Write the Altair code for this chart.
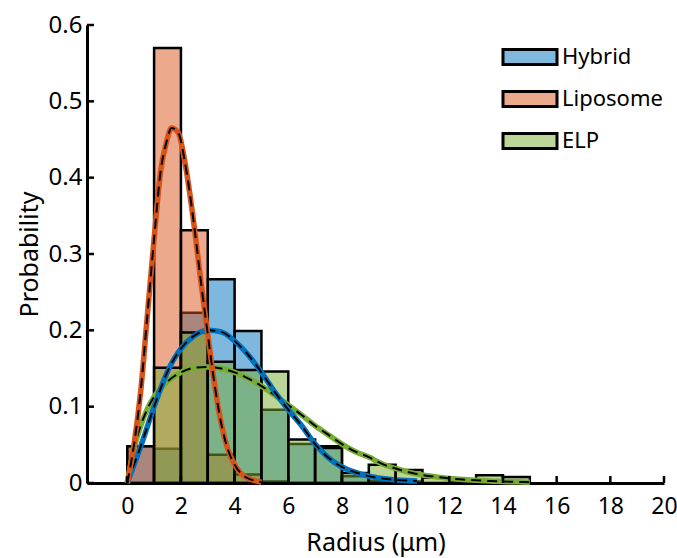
import altair as alt
import pandas as pd

# ---------------- data ----------------
series = ["Hybrid", "Liposome", "ELP"]
colors = ["#0072BD", "#D95319", "#77AC30"]
light_colors = ["#80B9DE", "#ECA98C", "#BBD698"]

bin_starts = list(range(0, 15))
hybrid_prob = [0.048, 0.045, 0.223, 0.267, 0.199, 0.096, 0.051, 0.048, 0.009, 0.003, 0.002, 0, 0, 0, 0]
liposome_prob = [0.048, 0.570, 0.331, 0.037, 0.011, 0.002, 0, 0, 0, 0, 0, 0, 0, 0, 0]
elp_prob = [0, 0.151, 0.197, 0.159, 0.148, 0.146, 0.057, 0.046, 0.013, 0.024, 0.017, 0.007, 0.003, 0.010, 0.008]

hybrid_fit_x = [0, 0.5, 1.0, 1.5, 2.0, 2.5, 3.0, 3.5, 4.0, 4.5, 5.0, 5.5, 6.0, 6.5, 7.0, 7.5,
                8.0, 8.5, 9.0, 9.5, 10.0, 10.5, 10.8]
hybrid_fit_y = [0, 0.048, 0.100, 0.146, 0.176, 0.193, 0.200, 0.198, 0.186, 0.168, 0.145, 0.119,
                0.096, 0.075, 0.051, 0.033, 0.021, 0.014, 0.009, 0.006, 0.004, 0.003, 0.0025]

liposome_fit_x = [0, 0.25, 0.5, 0.75, 1.0, 1.25, 1.45, 1.65, 1.9, 2.15, 2.5, 2.75, 3.0, 3.25,
                  3.5, 3.75, 4.0, 4.25, 4.5, 4.75, 5.0]
liposome_fit_y = [0, 0.05, 0.12, 0.22, 0.32, 0.41, 0.445, 0.465, 0.459, 0.42, 0.335, 0.262,
                  0.195, 0.13, 0.078, 0.044, 0.024, 0.012, 0.006, 0.003, 0.001]

elp_fit_x = [0, 0.25, 0.5, 0.75, 1.0, 1.5, 2.0, 2.5, 3.0, 3.5, 4.0, 4.5, 5.0, 5.5, 6.0, 6.5,
             7.0, 7.5, 8.0, 8.5, 9.0, 9.5, 10.0, 10.5, 11.0, 11.5, 12.0, 12.5, 13.0, 13.5,
             14.0, 14.5, 15.0]
elp_fit_y = [0, 0.045, 0.075, 0.097, 0.113, 0.133, 0.145, 0.151, 0.152, 0.150, 0.145, 0.137,
             0.127, 0.115, 0.102, 0.089, 0.075, 0.063, 0.051, 0.041, 0.034, 0.025, 0.019,
             0.014, 0.0105, 0.008, 0.006, 0.0045, 0.0035, 0.0025, 0.002, 0.0015, 0.001]

x_tick_values = [0, 2, 4, 6, 8, 10, 12, 14, 16, 18, 20]
y_tick_values = [0, 0.1, 0.2, 0.3, 0.4, 0.5, 0.6]

# ---------------- tables ----------------
probs = {"Hybrid": hybrid_prob, "Liposome": liposome_prob, "ELP": elp_prob}
rows = []
for s in series:
    for b, p in zip(bin_starts, probs[s]):
        if p > 0:
            rows.append({"series": s, "start": b, "end": b + 1, "prob": p})
bars_df = pd.DataFrame(rows)

fits = {
    "Hybrid": (hybrid_fit_x, hybrid_fit_y),
    "Liposome": (liposome_fit_x, liposome_fit_y),
    "ELP": (elp_fit_x, elp_fit_y),
}

FONT = "Noto Sans"
W, H = 577, 458

x_scale = alt.Scale(domain=[-1.5, 20], nice=False, zero=False)
y_scale = alt.Scale(domain=[0, 0.6], nice=False)
legend_scale = alt.Scale(domain=series, range=light_colors)

x_axis = alt.Axis(values=x_tick_values, title="Radius (μm)", ticks=False, grid=False,
                  domainColor="black", domainWidth=3, labelFontSize=23, titleFontSize=25,
                  labelPadding=12, titlePadding=12, labelFlush=False, labelOverlap=False,
                  labelColor="black", titleColor="black", labelFont=FONT, titleFont=FONT,
                  titleFontWeight="normal")
y_axis = alt.Axis(values=y_tick_values, title="Probability", ticks=False, grid=False,
                  domainColor="black", domainWidth=3, labelFontSize=24, titleFontSize=25,
                  labelPadding=5, titlePadding=6, format="~g", labelFlush=False,
                  labelOverlap=False, labelColor="black", titleColor="black",
                  labelFont=FONT, titleFont=FONT, titleFontWeight="normal")

layers = []
# histogram bars, one layer per series (drawn Hybrid, Liposome, ELP)
for s, c in zip(series, colors):
    layers.append(
        alt.Chart(bars_df).transform_filter(alt.datum.series == s)
        .mark_rect(fill=c, fillOpacity=0.5, stroke="black", strokeWidth=2.5)
        .encode(
            x=alt.X("start:Q", scale=x_scale, axis=x_axis),
            x2="end:Q",
            y=alt.Y("prob:Q", scale=y_scale, axis=y_axis),
            y2=alt.datum(0),
        )
    )

# zero-size layer that only carries the legend (light fill colours, black outline)
legend_layer = alt.Chart(bars_df).mark_rect(strokeWidth=0).encode(
    x=alt.X("start:Q", scale=x_scale, axis=x_axis),
    x2="start:Q",
    y=alt.Y("prob:Q", scale=y_scale, axis=y_axis),
    y2="prob:Q",
    fill=alt.Fill(
        "series:N", scale=legend_scale,
        legend=alt.Legend(
            title=None, orient="none", legendX=432, legendY=21, padding=0,
            symbolType="M-3.6,-1L3.6,-1L3.6,1L-3.6,1Z", symbolSize=225,
            symbolStrokeColor="black", symbolStrokeWidth=3, symbolOpacity=1,
            labelFontSize=22, labelFont=FONT, labelColor="black",
            labelOffset=21, rowPadding=14,
        ),
    ),
)
layers.append(legend_layer)

# fitted curves: thick coloured line with a dashed black line on top
for s, c in zip(["ELP", "Hybrid", "Liposome"], [colors[2], colors[0], colors[1]]):
    fx, fy = fits[s]
    df = pd.DataFrame({"x": fx, "y": fy})
    base = alt.Chart(df).encode(
        x=alt.X("x:Q", scale=x_scale, axis=x_axis),
        y=alt.Y("y:Q", scale=y_scale, axis=y_axis),
    )
    layers.append(base.mark_line(color=c, strokeWidth=5.5, interpolate="monotone"))
    layers.append(base.mark_line(color="black", strokeWidth=2, strokeDash=[10, 6],
                                 interpolate="monotone"))

# inward-pointing tick marks
xt = alt.Chart(pd.DataFrame({"t": x_tick_values})).mark_rule(color="black", strokeWidth=2.5).encode(
    x=alt.X("t:Q", scale=x_scale, axis=x_axis),
    y=alt.value(H),
    y2=alt.value(H - 7),
)
yt = alt.Chart(pd.DataFrame({"t": y_tick_values})).mark_rule(color="black", strokeWidth=2.5).encode(
    y=alt.Y("t:Q", scale=y_scale, axis=y_axis),
    x=alt.value(0),
    x2=alt.value(7),
)
layers += [xt, yt]

chart = alt.layer(*layers).properties(
    width=W, height=H,
    background="white",
    padding={"left": 87, "top": 25, "right": 13, "bottom": 75},
    autosize=alt.AutoSizeParams(type="none"),
).configure_view(strokeWidth=0, stroke="transparent")

chart.save("out.html", embed_options={"renderer": "svg", "actions": False})
